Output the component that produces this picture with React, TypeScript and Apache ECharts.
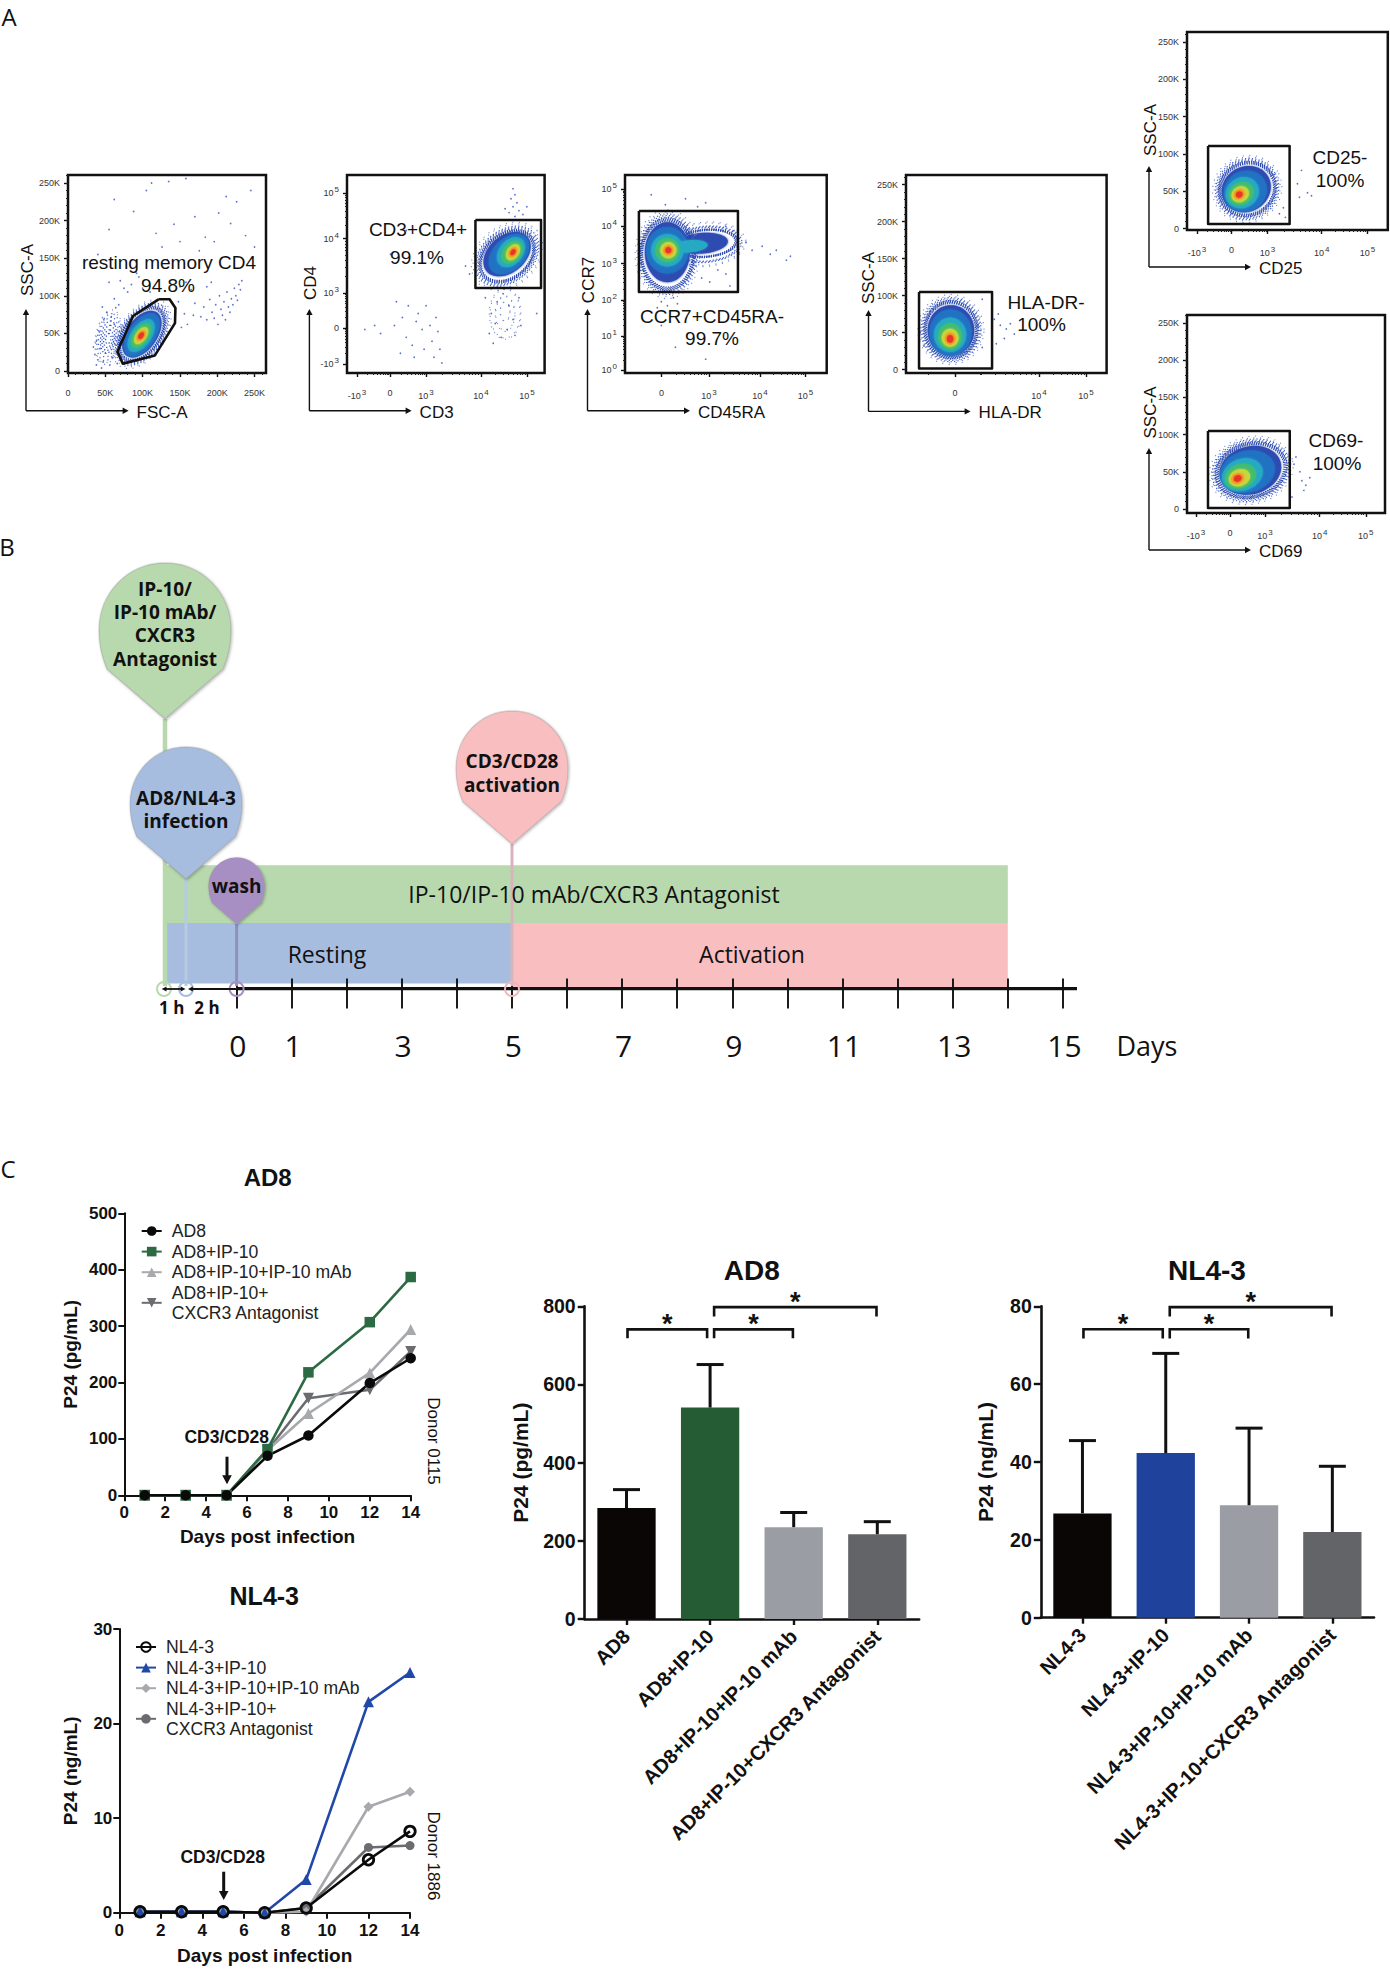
import React, { useEffect, useRef } from "react";
import * as echarts from "echarts";

// ---------- DATA ----------
const days = [1, 3, 5, 7, 9, 12, 14];
const ad8Curve = [0, 0, 0, 70, 106, 199, 243];
const ad8Ip10Curve = [0, 0, 0, 82, 218, 307, 387];
const ad8MabCurve = [0, 0, 0, 80, 145, 217, 294];
const ad8AntCurve = [0, 0, 0, 80, 172, 187, 255];
const nlCurve = [0.1, 0.1, 0.1, 0, 0.5, 5.6, 8.6];
const nlIp10Curve = [0.1, 0.1, 0.1, 0, 3.5, 22.3, 25.4];
const nlMabCurve = [0.1, 0.1, 0.1, 0, 0.1, 11.2, 12.8];
const nlAntCurve = [0.1, 0.1, 0.1, 0, 0.5, 6.9, 7.1];

const ad8Names = ["AD8", "AD8+IP-10", "AD8+IP-10+IP-10 mAb", "AD8+IP-10+\nCXCR3 Antagonist"];
const nlNames = ["NL4-3", "NL4-3+IP-10", "NL4-3+IP-10+IP-10 mAb", "NL4-3+IP-10+\nCXCR3 Antagonist"];

const ad8Cats = ["AD8", "AD8+IP-10", "AD8+IP-10+IP-10 mAb", "AD8+IP-10+CXCR3 Antagonist"];
const ad8Bars = [284, 541, 235, 217];
const ad8Errs = [331, 651, 272.5, 249];
const nlCats = ["NL4-3", "NL4-3+IP-10", "NL4-3+IP-10+IP-10 mAb", "NL4-3+IP-10+CXCR3 Antagonist"];
const nlBars = [26.8, 42.3, 28.9, 22];
const nlErrs = [45.5, 67.9, 48.7, 38.9];
const ad8Brackets = [[0, 1, 741, 718], [1, 2, 741, 718], [1, 3, 798, 774]];
const nlBrackets = [[0, 1, 74.1, 71.7], [1, 2, 74.1, 71.7], [1, 3, 79.8, 77.4]];

const timelineTicks = [0, 1, 2, 3, 4, 5, 6, 7, 8, 9, 10, 11, 12, 13, 14, 15];
const timelineLabels = [0, 1, 3, 5, 7, 9, 11, 13, 15];
const timelineBands = [
  [-1.332, 14, 51, 96],
  [-1.26, 5, 4, 51],
  [5, 14, 0, 51],
];

const kTicks = [0, 50, 100, 150, 200, 250];
const kLabels = ["0", "50K", "100K", "150K", "200K", "250K"];

// clouds: centre x, centre y, semi-axis a, semi-axis b (in x-axis units), tilt in degrees, density level
const fscClouds = [
  [54, 45, 37, 17, 80, -5], [54, 45, 32, 14.5, 80, -3], [54, 45, 27, 12.5, 80, -3], [54, 45, 22, 10, 80, -4], [54, 44, 17, 8, 80, -4], [54, 43, 12, 6, 80, -4], [54, 43, 7, 3.5, 80, -4],
  [99, 49, 52, 31, 55, -5], [99, 49, 47, 28, 55, -2], [99, 49, 42, 25, 55, -1], [99, 49, 38, 22, 55, 0], [99, 48, 33, 18, 55, 1],
  [98, 47, 25, 13.5, 55, 2], [98, 47, 19, 10, 55, 3], [98, 47, 13, 7, 55, 4], [98, 47, 8, 4.5, 55, 5], [98, 47, 5, 3, 55, 6],
];
const fscGate = [[121.3, 95.3], [136.2, 95.3], [144, 83.9], [143.4, 63.6], [116.5, 20.7], [73.5, 9.8], [66.2, 25.5], [87.1, 73.1], [121.3, 95.3]];
const fscDots = [
  [178, 72], [182, 85], [186, 68], [190, 95], [193, 78], [196, 70], [198, 88], [201, 62], [203, 100], [205, 82], [207, 74], [209, 92], [211, 68], [213, 105],
  [215, 85], [217, 78], [219, 96], [221, 88], [223, 110], [225, 100], [227, 94], [229, 115], [231, 108], [233, 120], [186, 112], [192, 118], [170, 90], [165, 108],
  [158, 118], [150, 112], [40, 155], [55, 188], [62, 228], [88, 212], [92, 130], [105, 240], [118, 183], [126, 165], [133, 148], [142, 195], [150, 172], [158, 256],
  [170, 205], [176, 160], [184, 178], [196, 172], [202, 210], [206, 150], [212, 232], [218, 196], [226, 225], [238, 180], [245, 240], [250, 165], [112, 250], [135, 252],
  [70, 120], [75, 110], [80, 105], [85, 115], [95, 125], [100, 110], [110, 105], [62, 96], [55, 118], [68, 88], [148, 92], [156, 76], [160, 62], [152, 58], [168, 74],
  [36, 22], [38, 8], [40, 15], [43, 30], [45, 4], [47, 12], [48, 68], [50, 24], [52, 78], [56, 8], [58, 72], [60, 18], [62, 62], [64, 84], [42, 52], [38, 40], [66, 10], [46, 85], [34, 32],
];
const cd3Ticks = [5.1, 21.8, 40, 67.8, 91.1];
const cd3Labels = ["-10{s|3}", "0", "10{s|3}", "10{s|4}", "10{s|5}"];
const cd4Ticks = [4.5, 22.7, 40.4, 67.9, 90.9];
const cd4Labels = ["-10{s|3}", "0", "10{s|3}", "10{s|4}", "10{s|5}"];
const cd3Clouds = [
  [80, 30, 8, 13, 0, -5], [80, 30, 5, 9, 0, -5], [80, 31, 2.5, 5, 0, -5], [81, 59, 20, 15, 40, -5], [81, 59, 18, 13, 40, -2], [81, 59, 16, 11.5, 40, -1], [81, 60, 14.5, 10, 40, 0], [82, 60, 12, 8, 45, 1],
  [83, 61, 8.5, 6, 50, 2], [83.5, 61, 6.5, 4.5, 50, 3], [84, 61, 4.5, 3, 55, 4], [84, 61, 2.8, 1.9, 55, 5], [84, 61, 1.7, 1.1, 55, 6],
];
const cd3Gate = [[65, 77.3], [98.2, 77.3], [98.2, 42.9], [65, 42.9], [65, 77.3]];
const cd3Dots = [
  [84, 93], [85, 90], [83, 88], [86, 86], [84, 84], [87, 82], [82, 81], [89, 80], [85, 79], [91, 84], [80, 83], [62, 50], [60, 54], [9, 22], [14, 24], [17, 20],
  [24, 24], [27, 10], [28, 28], [30, 18], [31, 34], [33, 14], [34, 8], [35, 26], [36, 30], [38, 22], [39, 12], [40, 34], [42, 24], [43, 16], [44, 8], [45, 28], [46, 21], [47, 12], [48, 5], [25, 36],
  [72, 20], [73, 30], [75, 25], [76, 36], [78, 18], [79, 40], [81, 22], [82, 34], [84, 27], [85, 19], [87, 38], [88, 24], [70, 38], [74, 15], [22, 60], [30, 72], [96, 30],
];
const ccr7Ticks = [1.5, 18.7, 36.9, 55.3, 74.2, 92.9];
const ccr7Labels = ["10{s|0}", "10{s|1}", "10{s|2}", "10{s|3}", "10{s|4}", "10{s|5}"];
const cd45Ticks = [18.1, 41.6, 66.9, 89.5];
const cd45Labels = ["0", "10{s|3}", "10{s|4}", "10{s|5}"];
const ccr7Clouds = [
  [40, 65, 20, 11, 5, -5], [40, 65, 18, 9, 5, -2], [40, 65.5, 16, 7, 5, -1], [38, 65.5, 14, 5.5, 5, 0], [21, 60, 16, 22, 0, -5], [21, 60, 14.5, 20, 0, -2], [21, 60, 13.5, 18, 0, -1], [21, 61, 12, 16, 0, 0],
  [21, 62, 10.5, 11.5, 0, 1], [32, 64, 9, 3, 5, 2], [21, 62, 8, 8, 0, 2], [21, 62, 6, 6, 0, 3], [21.5, 62, 4, 4, 0, 4], [21.5, 62, 2.5, 2.5, 0, 5], [21.5, 62, 1.5, 1.5, 0, 6],
];
const ccr7Gate = [[6.9, 81.8], [56, 81.8], [56, 40.9], [6.9, 40.9], [6.9, 81.8]];
const ccr7Dots = [
  [13, 90], [40, 86], [30, 88], [36, 84], [20, 85], [24, 38], [18, 36], [26, 35], [21, 34], [16, 33], [60, 66], [63, 62], [68, 64], [72, 60], [75, 62], [80, 57],
  [82, 59], [50, 50], [46, 52], [42, 46], [52, 44], [38, 48], [50, 74], [54, 72], [25, 13], [40, 7], [18, 24],
];
const hlaTicks = [24.4, 66.3, 89.7];
const hlaLabels = ["0", "10{s|4}", "10{s|5}"];
const hlaClouds = [
  [22.4, 54, 16.5, 17.5, 0, -5], [22.4, 54, 15, 16, 0, -2], [22.4, 54, 13.5, 14.5, 0, -1], [22.4, 53, 12.5, 13.5, 0, 0], [22.2, 50, 10.5, 11.5, 0, 1],
  [22, 47, 8, 8.5, 0, 2], [22, 45, 6, 6.5, 0, 3], [22, 43, 4.2, 4.5, 0, 4], [22, 42, 2.6, 3, 0, 5], [22, 41.5, 1.6, 1.9, 0, 6],
];
const hlaGate = [[6.5, 104.9], [42.9, 104.9], [42.9, 1.4], [6.5, 1.4], [6.5, 104.9]];
const hlaDots = [[44, 68], [46, 75], [47, 60], [49, 42], [50, 55], [52, 62], [54, 48], [45, 35], [38, 95], [36, 60], [38, 30], [7, 50], [9, 32]];
const cd25Ticks = [5, 22.2, 40.1, 67.1, 89.9];
const cdLabels = ["-10{s|3}", "0", "10{s|3}", "10{s|4}", "10{s|5}"];
const cd25Clouds = [
  [30, 53, 17.5, 16.5, 30, -5], [30, 53, 16, 15, 30, -2], [30, 53, 14.7, 13.5, 30, -1], [29.5, 53, 13.5, 12, 30, 0], [29, 50, 11, 10, 30, 1],
  [27.5, 48, 8.5, 7.5, 30, 2], [27, 47, 6.5, 5.5, 30, 3], [26.5, 46, 4.5, 3.8, 30, 4], [26, 46, 2.8, 2.4, 30, 5], [26, 45.6, 1.7, 1.5, 30, 6],
];
const cd25Gate = [[10.5, 110.7], [51.1, 110.7], [51.1, 6.2], [10.5, 6.2], [10.5, 110.7]];
const cd25Dots = [[56, 42], [55, 60], [57, 78], [60, 48], [62, 44], [48, 28], [46, 20], [49, 15]];
const cd69Ticks = [4.5, 21.7, 39.4, 67, 90.3];
const cd69Clouds = [
  [32.4, 52, 21.5, 17, 15, -5], [32.4, 52, 20, 15.5, 15, -2], [32.4, 52, 18.5, 14, 15, -1], [32, 52, 17, 13, 15, 0], [30.5, 50, 14, 10.5, 15, 1],
  [28, 46, 10.5, 8, 20, 2], [27, 44, 8, 6, 20, 3], [26.5, 42, 5.5, 4.2, 20, 4], [25.6, 41, 3.4, 2.6, 20, 5], [25.6, 41, 2, 1.6, 20, 6],
];
const cd69Gate = [[10.6, 104.8], [51.9, 104.8], [51.9, 1.3], [10.6, 1.3], [10.6, 104.8]];
const cd69Dots = [[54, 60], [55, 70], [57, 50], [58, 38], [59, 25], [60, 32], [62, 42], [53, 16]];

// ---------- STYLE ----------
const OPEN = "'Open Sans', sans-serif";
const ARIAL = "'Liberation Sans', Arial, sans-serif";
const densityColors = ["#2d4cb2", "#2172c4", "#25a9c2", "#43bd70", "#c6d63c", "#f4a325", "#e8352a"];
const stipple: any = {
  "-1": { stroke: "#2b49ae", lineWidth: 1.3, lineDash: [1.2, 1.1], scales: [1, 0.97, 0.94, 0.91] },
  "-2": { stroke: "#3f5fc2", lineWidth: 1.2, lineDash: [1.2, 2.2], scales: [1, 0.96, 0.92] },
  "-3": { stroke: "#4a68c6", lineWidth: 1.2, lineDash: [1.2, 3.4], scales: [1] },
  "-4": { stroke: "#3757bd", lineWidth: 1.3, lineDash: [1.3, 2.2], scales: [1] },
  "-5": { stroke: "#6f88d4", lineWidth: 1.1, lineDash: [1.1, 5.5], scales: [1, 0.95] },
};

echarts.graphic.registerShape(
  "teardrop",
  echarts.graphic.extendPath("M50 0C78 0 100 19 100 43C100 52 98 60 94 68L50 100L6 68C2 60 0 52 0 43C0 19 22 0 50 0Z", {})
);

// ---------- BUILDERS ----------
const grid: any[] = [];
const xAxis: any[] = [];
const yAxis: any[] = [];
const series: any[] = [];
const graphic: any[] = [];
const title: any[] = [];
const legend: any[] = [];

function T(text: string, x: number, y: number, font: string, opt: any = {}) {
  graphic.push({
    type: "text", x, y, rotation: opt.rotation || 0, z: opt.z || 20, silent: true,
    style: {
      text, font, fill: opt.fill || "#111",
      textAlign: opt.align || "center", textVerticalAlign: "middle",
      align: opt.align || "center", verticalAlign: "middle",
    },
  });
}
function seg(x1: number, y1: number, x2: number, y2: number, w: number, c = "#111", z = 15) {
  graphic.push({ type: "line", z, silent: true, shape: { x1, y1, x2, y2 }, style: { stroke: c, lineWidth: w } });
}
function head(x: number, y: number, dir: string, s = 5, c = "#111", z = 15) {
  const d: any = {
    r: [[x, y], [x - s * 1.5, y - s * 0.8], [x - s * 1.5, y + s * 0.8]],
    l: [[x, y], [x + s * 1.5, y - s * 0.8], [x + s * 1.5, y + s * 0.8]],
    u: [[x, y], [x - s * 0.8, y + s * 1.5], [x + s * 0.8, y + s * 1.5]],
    d: [[x, y], [x - s * 0.8, y - s * 1.5], [x + s * 0.8, y - s * 1.5]],
  };
  graphic.push({ type: "polygon", z, silent: true, shape: { points: d[dir] }, style: { fill: c } });
}

function cloudItem(params: any, api: any) {
  const cx = api.value(0), cy = api.value(1), a = api.value(2), b = api.value(3), r = (api.value(4) * Math.PI) / 180, lv = api.value(5);
  const c = api.coord([cx, cy]);
  const sx = api.size([1, 1])[0];
  const ring = (k: number) => {
    const pts: number[][] = [];
    for (let i = 0; i < 60; i++) {
      const t = (i / 60) * Math.PI * 2;
      const u = k * a * sx * Math.cos(t), v = k * b * sx * Math.sin(t);
      pts.push([c[0] + u * Math.cos(r) - v * Math.sin(r), c[1] - (u * Math.sin(r) + v * Math.cos(r))]);
    }
    return pts;
  };
  if (lv >= 0) {
    const col = densityColors[lv];
    return {
      type: "polygon", shape: { points: ring(lv === 0 ? 0.93 : 1) }, silent: true,
      style: { fill: col, shadowColor: col, shadowBlur: lv === 0 ? 2 : 2.5 },
    };
  }
  const st = stipple[String(lv)];
  return {
    type: "group", silent: true,
    children: st.scales.map((k: number, i: number) => ({
      type: "polygon", shape: { points: ring(k) }, silent: true,
      style: { fill: "none", stroke: st.stroke, lineWidth: st.lineWidth, lineDash: st.lineDash, lineDashOffset: i * 0.9 },
    })),
  };
}

function minorLog(ticks: number[]) {
  const out: number[] = [];
  for (let i = 0; i + 1 < ticks.length; i++) {
    for (let k = 2; k < 10; k++) out.push(ticks[i] + (ticks[i + 1] - ticks[i]) * Math.log10(k));
  }
  return out;
}
const minorK: number[] = [];
for (let v = 0; v <= 260; v += 10) minorK.push(v);

const richS = { s: { fontSize: 8, padding: [0, 0, 7, 1], fontFamily: ARIAL, color: "#333" } };
function flowAxis(dim: string, gridIndex: number, min: number, max: number, ticks: number[], labels: string[], minor: number[]) {
  const list = dim === "x" ? xAxis : yAxis;
  const position = dim === "x" ? "bottom" : "left";
  list.push({
    type: "value", gridIndex, min, max, position, splitLine: { show: false }, axisLine: { show: false, onZero: false },
    axisTick: { show: true, customValues: ticks, length: 4, lineStyle: { color: "#111", width: 1.4 } },
    axisLabel: {
      show: true, customValues: ticks, margin: dim === "x" ? 15 : 8, fontFamily: ARIAL, fontSize: 9, color: "#333", rich: richS,
      formatter: (v: number) => labels[ticks.indexOf(v)] ?? "",
    },
  });
  list.push({
    type: "value", gridIndex, min, max, position, splitLine: { show: false }, axisLine: { show: false, onZero: false }, axisLabel: { show: false },
    axisTick: { show: true, customValues: minor, length: 2, lineStyle: { color: "#222", width: 1 } },
  });
}

function flowPlot(p: any) {
  const gi = grid.length;
  grid.push({ left: p.left, top: p.top, width: p.w, height: p.h, show: true, borderColor: "#111", borderWidth: 2.5, backgroundColor: "#fff" });
  const xi = xAxis.length, yi = yAxis.length;
  flowAxis("x", gi, p.xMin, p.xMax, p.xTicks, p.xLabels, p.xMinor);
  flowAxis("y", gi, p.yMin, p.yMax, p.yTicks, p.yLabels, p.yMinor);
  series.push({
    type: "custom", xAxisIndex: xi, yAxisIndex: yi, data: p.clouds, renderItem: cloudItem, clip: false, silent: true, encode: { x: 0, y: 1 }, z: 2,
  });
  series.push({
    type: "scatter", xAxisIndex: xi, yAxisIndex: yi, data: p.dots, symbolSize: 1.7, silent: true, z: 3,
    itemStyle: { color: "#3d5bc0", opacity: 0.85 },
  });
  series.push({
    type: "line", xAxisIndex: xi, yAxisIndex: yi, data: p.gate, showSymbol: false, symbol: "none", silent: true, z: 4, clip: false,
    lineStyle: { color: "#111", width: p.gateW || 2.5, join: "round" },
  });
  // axis arrows
  const a = p.arrow;
  seg(a.x, a.bottom, a.x, a.top + 5, 1.4);
  seg(a.x, a.bottom, a.right - 5, a.bottom, 1.4);
  head(a.x, a.top, "u", 4);
  head(a.right, a.bottom, "r", 4);
  T(p.xName, a.right + 8, a.bottom + 1.5, `17px ${ARIAL}`, { align: "left" });
  T(p.yName, p.yNameX, p.yNameY, `17px ${ARIAL}`, { rotation: Math.PI / 2 });
  for (const n of p.notes) T(n[0], n[1], n[2], `19px ${ARIAL}`);
}

function errorItem(params: any, api: any) {
  const top = api.coord([api.value(0), api.value(1)]);
  const base = api.coord([api.value(0), api.value(2)]);
  const cap = 13.5;
  return {
    type: "group",
    children: [
      { type: "line", shape: { x1: top[0], y1: top[1], x2: base[0], y2: base[1] }, style: { stroke: "#111", lineWidth: 3 } },
      { type: "line", shape: { x1: top[0] - cap, y1: top[1], x2: top[0] + cap, y2: top[1] }, style: { stroke: "#111", lineWidth: 3 } },
    ],
  };
}
function bracketItem(params: any, api: any) {
  const from = api.value(0), to = api.value(1), t = api.value(2), b = api.value(3);
  const x1 = api.coord([from, t])[0] + (from === 1 ? 4 : 1);
  const x2 = api.coord([to, t])[0] - (to === 1 ? 3 : 0.8);
  const yT = api.coord([from, t])[1], yB = api.coord([from, b])[1];
  return {
    type: "group",
    children: [
      { type: "polyline", shape: { points: [[x1, yB], [x1, yT], [x2, yT], [x2, yB]] }, style: { stroke: "#111", lineWidth: 2.6, fill: "none" } },
      {
        type: "text", x: (x1 + x2) / 2, y: yT - 5,
        style: { text: "*", font: `bold 27px ${ARIAL}`, fill: "#111", textAlign: "center", textVerticalAlign: "middle", align: "center", verticalAlign: "middle" },
      },
    ],
  };
}

function linePlot(p: any) {
  const gi = grid.length;
  grid.push({ left: p.left, top: p.top, width: p.w, height: p.h });
  const axisBits = (name: string, gap: number) => ({
    name, nameLocation: "middle", nameGap: gap,
    nameTextStyle: { fontFamily: ARIAL, fontWeight: "bold", fontSize: 19, color: "#111" },
    axisLine: { show: true, onZero: false, lineStyle: { color: "#111", width: 2 } },
    axisTick: { show: true, length: 6, lineStyle: { color: "#111", width: 2 } },
    axisLabel: { fontFamily: ARIAL, fontWeight: "bold", fontSize: 17, color: "#111" },
    splitLine: { show: false },
  });
  const xi = xAxis.length, yi = yAxis.length;
  const xb = axisBits("Days post infection", p.xGap);
  xAxis.push({ type: "value", gridIndex: gi, min: 0, max: 14, interval: 2, ...xb, axisLabel: { ...xb.axisLabel, margin: 9 } });
  const yb = axisBits(p.yName, p.yGap);
  yAxis.push({ type: "value", gridIndex: gi, min: 0, max: p.yMax, interval: p.yInt, ...yb, nameRotate: 90, axisLabel: { ...yb.axisLabel, margin: 7 } });
  for (const s of p.lines) {
    series.push({
      type: "line", name: s.name, xAxisIndex: xi, yAxisIndex: yi, clip: false, symbol: s.symbol, symbolSize: s.size, z: 3,
      data: days.map((d, i) => [d, s.values[i]]),
      lineStyle: { color: s.color, width: 2.6 },
      itemStyle: s.hollow ? { color: "rgba(255,255,255,0)", borderColor: s.color, borderWidth: 2.8 } : { color: s.color },
    });
  }
  legend.push({
    show: true, orient: "vertical", left: p.legX, top: p.legY, padding: 0, itemGap: 0.6, itemWidth: 20, itemHeight: 12,
    data: p.names, selectedMode: false, textStyle: { fontFamily: ARIAL, fontSize: 17.6, lineHeight: 20, color: "#222", padding: [0, 0, 0, 5] },
  });
}

function barPlot(p: any) {
  const gi = grid.length;
  grid.push({ left: p.left, top: p.top, width: p.w, height: p.h });
  const xi = xAxis.length, yi = yAxis.length;
  xAxis.push({
    type: "category", gridIndex: gi, data: p.cats,
    axisLine: { show: true, lineStyle: { color: "#111", width: 2.6 } },
    axisTick: { show: true, alignWithLabel: true, length: 6, lineStyle: { color: "#111", width: 2.4 } },
    axisLabel: { interval: 0, rotate: 45, margin: 14, fontFamily: ARIAL, fontWeight: "bold", fontSize: 20, color: "#111" },
  });
  yAxis.push({
    type: "value", gridIndex: gi, min: 0, max: p.yMax, interval: p.yInt,
    name: p.yName, nameLocation: "middle", nameGap: p.yGap, nameRotate: 90,
    nameTextStyle: { fontFamily: ARIAL, fontWeight: "bold", fontSize: 21, color: "#111" },
    axisLine: { show: true, onZero: false, lineStyle: { color: "#111", width: 2.6 } },
    axisTick: { show: true, length: 7, lineStyle: { color: "#111", width: 2.4 } },
    axisLabel: { margin: 9, fontFamily: ARIAL, fontWeight: "bold", fontSize: 19.5, color: "#111" },
    splitLine: { show: false },
  });
  series.push({
    type: "bar", xAxisIndex: xi, yAxisIndex: yi, barWidth: 58.3, silent: true, z: 2,
    data: p.values.map((v: number, i: number) => ({ value: v, itemStyle: { color: p.colors[i] } })),
  });
  series.push({
    type: "custom", xAxisIndex: xi, yAxisIndex: yi, renderItem: errorItem, clip: false, silent: true, z: 3, encode: { x: 0, y: 1 },
    data: p.values.map((v: number, i: number) => [i, p.errs[i], v]),
  });
  series.push({
    type: "custom", xAxisIndex: xi, yAxisIndex: yi, renderItem: bracketItem, clip: false, silent: true, z: 3, encode: { x: 0, y: 2 },
    data: p.brackets,
  });
}

function buildTimeline() {
  const gi = grid.length;
  grid.push({ left: 163, top: 860, width: 914, height: 128.6 });
  const xi = xAxis.length, yi = yAxis.length;
  const range = { min: -1.332, max: 15.256 };
  xAxis.push({
    type: "value", gridIndex: gi, ...range, position: "bottom", z: 6, splitLine: { show: false }, axisLine: { show: false, onZero: false },
    axisTick: { show: true, customValues: timelineTicks, length: 20, lineStyle: { color: "#111", width: 1.9 } },
    axisLabel: { show: true, customValues: timelineLabels, margin: 42, padding: [0, 0, 0, 3], fontFamily: OPEN, fontSize: 30, color: "#111" },
  });
  xAxis.push({
    type: "value", gridIndex: gi, ...range, position: "bottom", z: 6, splitLine: { show: false }, axisLine: { show: false, onZero: false }, axisLabel: { show: false },
    axisTick: { show: true, inside: true, customValues: timelineTicks, length: 10, lineStyle: { color: "#111", width: 1.9 } },
  });
  yAxis.push({ type: "value", gridIndex: gi, min: 0, max: 100, show: false });
  const bandColors = ["#b8d8ad", "#a6bde0", "#f8bec0"];
  series.push({
    type: "custom", xAxisIndex: xi, yAxisIndex: yi, clip: false, silent: true, z: 1, encode: { x: 0, y: 2 }, data: timelineBands,
    renderItem: (params: any, api: any) => {
      const a = api.coord([api.value(0), api.value(3)]);
      const b = api.coord([api.value(1), api.value(2)]);
      return { type: "rect", shape: { x: a[0], y: a[1], width: b[0] - a[0], height: b[1] - a[1] }, style: { fill: bandColors[params.dataIndex] } };
    },
  });
  series.push({
    type: "line", xAxisIndex: xi, yAxisIndex: yi, symbol: "none", clip: false, silent: true, z: 5, data: [[0, 0], [15.256, 0]],
    lineStyle: { color: "#111", width: 3.4 },
  });

  const pins = [
    { x: 165, top: 563, hw: 66, tip: 719, fill: "#b8d8ad", stem: "#b8d8ad", sw: 4.5, ring: "#b8d8ad", rx: 164 },
    { x: 186, top: 747, hw: 56, tip: 879, fill: "#a6bde0", stem: "#b7c9e3", sw: 3, ring: "#a6bde0", rx: 186 },
    { x: 512, top: 711, hw: 56, tip: 844, fill: "#f8bec0", stem: "#d9b4bc", sw: 3, ring: "#f1b6bc", rx: 512 },
    { x: 236.6, top: 857.5, hw: 28, tip: 924, fill: "#a78fc4", stem: "#928fbd", sw: 3, ring: "#a78fc4", rx: 236.6 },
  ];
  for (const p of pins) {
    seg(p.x, p.tip, p.x, 986, p.sw, p.stem, 8);
    graphic.push({
      type: "teardrop", x: p.x - p.hw, y: p.top, scaleX: (p.hw * 2) / 100, scaleY: (p.tip - p.top) / 100, z: 9 + pins.indexOf(p) * 0.1, silent: true,
      style: { fill: p.fill, stroke: "rgba(120,120,120,0.25)", lineWidth: 1, shadowBlur: 3, shadowColor: "rgba(0,0,0,0.3)", shadowOffsetX: 1, shadowOffsetY: 1 },
    });
    graphic.push({
      type: "ellipse", z: 12, silent: true, shape: { cx: p.rx, cy: 989, rx: 7, ry: 7 },
      style: { fill: "rgba(255,255,255,0)", stroke: p.ring, lineWidth: 2 },
    });
  }
  seg(165, 989, 183, 989, 1.8); head(161.7, 989, "l", 3.2); head(185.5, 989, "r", 3.2);
  seg(191, 989, 236, 989, 1.8); head(188, 989, "l", 3.2);
  T("1 h", 171.7, 1007, `bold 17px ${OPEN}`);
  T("2 h", 207, 1007, `bold 17px ${OPEN}`);
  T("Days", 1147, 1045, `27px ${OPEN}`);
  T("Resting", 327, 954, `23px ${OPEN}`);
  T("Activation", 752, 954, `23px ${OPEN}`);
  T("IP-10/IP-10 mAb/CXCR3 Antagonist", 594, 894, `23px ${OPEN}`);
  const bf = `bold 19px ${OPEN}`;
  T("IP-10/", 165, 589, bf); T("IP-10 mAb/", 165, 612, bf); T("CXCR3", 165, 635, bf); T("Antagonist", 165, 658.6, bf);
  T("AD8/NL4-3", 186, 798, bf); T("infection", 186, 821, bf);
  T("CD3/CD28", 512, 761, bf); T("activation", 512, 785, bf);
  T("wash", 236.6, 886, bf);
}

function buildAll() {
  T("A", 9, 16, `24px ${OPEN}`);
  T("B", 7, 546, `24px ${OPEN}`);
  T("C", 8, 1168, `24px ${OPEN}`);

  flowPlot({
    left: 68, top: 175, w: 198, h: 198, xMin: 0, xMax: 265.4, yMin: -2.66, yMax: 260.6,
    xTicks: kTicks, xLabels: kLabels, yTicks: kTicks, yLabels: kLabels, xMinor: minorK, yMinor: minorK,
    clouds: fscClouds, gate: fscGate, dots: fscDots, gateW: 2.6,
    arrow: { x: 26, bottom: 410.7, top: 309, right: 128.6 }, xName: "FSC-A", yName: "SSC-A", yNameX: 27, yNameY: 270,
    notes: [["resting memory CD4", 169, 262], ["94.8%", 168, 285]],
  });
  flowPlot({
    left: 347, top: 175, w: 197.6, h: 198, xMin: 0, xMax: 100, yMin: 0, yMax: 100,
    xTicks: cd3Ticks, xLabels: cd3Labels, yTicks: cd4Ticks, yLabels: cd4Labels, xMinor: minorLog(cd3Ticks), yMinor: minorLog(cd4Ticks),
    clouds: cd3Clouds, gate: cd3Gate, dots: cd3Dots,
    arrow: { x: 309.4, bottom: 410.7, top: 309, right: 411.6 }, xName: "CD3", yName: "CD4", yNameX: 310, yNameY: 283,
    notes: [["CD3+CD4+", 418, 229], ["99.1%", 417, 257]],
  });
  flowPlot({
    left: 625, top: 175, w: 201.7, h: 198, xMin: 0, xMax: 100, yMin: 0, yMax: 100,
    xTicks: cd45Ticks, xLabels: cd45Labels, yTicks: ccr7Ticks, yLabels: ccr7Labels, xMinor: minorLog(cd45Ticks), yMinor: minorLog(ccr7Ticks),
    clouds: ccr7Clouds, gate: ccr7Gate, dots: ccr7Dots,
    arrow: { x: 587.5, bottom: 410.7, top: 309, right: 690 }, xName: "CD45RA", yName: "CCR7", yNameX: 588, yNameY: 280,
    notes: [["CCR7+CD45RA-", 712, 316], ["99.7%", 712, 338.6]],
  });
  flowPlot({
    left: 906, top: 175, w: 200.6, h: 198, xMin: 0, xMax: 100, yMin: -4.6, yMax: 263,
    xTicks: hlaTicks, xLabels: hlaLabels, yTicks: kTicks, yLabels: kLabels, xMinor: [11, 37.7, ...minorLog(hlaTicks)], yMinor: minorK,
    clouds: hlaClouds, gate: hlaGate, dots: hlaDots,
    arrow: { x: 868.5, bottom: 411.4, top: 310, right: 970.6 }, xName: "HLA-DR", yName: "SSC-A", yNameX: 868, yNameY: 278,
    notes: [["HLA-DR-", 1046, 302.5], ["100%", 1041.5, 324]],
  });
  flowPlot({
    left: 1187, top: 32, w: 200.8, h: 198, xMin: 0, xMax: 100, yMin: -1.9, yMax: 263.4,
    xTicks: cd25Ticks, xLabels: cdLabels, yTicks: kTicks, yLabels: kLabels, xMinor: minorLog(cd25Ticks), yMinor: minorK,
    clouds: cd25Clouds, gate: cd25Gate, dots: cd25Dots,
    arrow: { x: 1149, bottom: 267, top: 166, right: 1251 }, xName: "CD25", yName: "SSC-A", yNameX: 1150.6, yNameY: 130,
    notes: [["CD25-", 1340, 157], ["100%", 1340, 180]],
  });
  flowPlot({
    left: 1187, top: 315, w: 198, h: 198, xMin: 0, xMax: 100, yMin: -5.4, yMax: 260.7,
    xTicks: cd69Ticks, xLabels: cdLabels, yTicks: kTicks, yLabels: kLabels, xMinor: minorLog(cd69Ticks), yMinor: minorK,
    clouds: cd69Clouds, gate: cd69Gate, dots: cd69Dots,
    arrow: { x: 1149, bottom: 550, top: 448, right: 1251 }, xName: "CD69", yName: "SSC-A", yNameX: 1150, yNameY: 412.5,
    notes: [["CD69-", 1336, 440], ["100%", 1337, 463]],
  });

  buildTimeline();

  linePlot({
    left: 124.3, top: 1213.3, w: 286.4, h: 282, yMax: 500, yInt: 100, yName: "P24 (pg/mL)", yGap: 44.5, xGap: 32,
    legX: 140.7, legY: 1221, names: ad8Names,
    lines: [
      { name: ad8Names[3], values: ad8AntCurve, color: "#6b6c70", symbol: "path://M0 0H10L5 10Z", size: 11 },
      { name: ad8Names[2], values: ad8MabCurve, color: "#a7a9ad", symbol: "triangle", size: 11 },
      { name: ad8Names[1], values: ad8Ip10Curve, color: "#2b6a42", symbol: "rect", size: 10.5 },
      { name: ad8Names[0], values: ad8Curve, color: "#0a0a0a", symbol: "circle", size: 10.5 },
    ],
  });
  linePlot({
    left: 119.3, top: 1629, w: 290.7, h: 283.7, yMax: 30, yInt: 10, yName: "P24 (ng/mL)", yGap: 39.5, xGap: 33.5,
    legX: 135, legY: 1637, names: nlNames,
    lines: [
      { name: nlNames[3], values: nlAntCurve, color: "#6b6c70", symbol: "circle", size: 9 },
      { name: nlNames[2], values: nlMabCurve, color: "#a7a9ad", symbol: "diamond", size: 10 },
      { name: nlNames[1], values: nlIp10Curve, color: "#2048a8", symbol: "triangle", size: 11 },
      { name: nlNames[0], values: nlCurve, color: "#0a0a0a", symbol: "circle", size: 10.5, hollow: true },
    ],
  });
  T("CD3/CD28", 226.7, 1436.7, `bold 17.5px ${ARIAL}`);
  seg(227, 1456.7, 227, 1476, 3); head(227, 1484.3, "d", 6);
  T("CD3/CD28", 222.7, 1857.3, `bold 17.5px ${ARIAL}`);
  seg(223.7, 1871.7, 223.7, 1892, 3); head(223.7, 1900, "d", 6);
  T("Donor 0115", 433.3, 1441, `17px ${ARIAL}`, { rotation: -Math.PI / 2 });
  T("Donor 1886", 433.3, 1856, `17px ${ARIAL}`, { rotation: -Math.PI / 2 });

  barPlot({
    left: 584.7, top: 1306.3, w: 334.4, h: 312.7, cats: ad8Cats, values: ad8Bars, errs: ad8Errs, brackets: ad8Brackets,
    colors: ["#0a0606", "#255c34", "#9a9da4", "#636467"], yMax: 800, yInt: 200, yName: "P24 (pg/mL)", yGap: 53.5,
  });
  barPlot({
    left: 1040.8, top: 1306.3, w: 333.2, h: 311.4, cats: nlCats, values: nlBars, errs: nlErrs, brackets: nlBrackets,
    colors: ["#0a0606", "#1f439c", "#9a9da4", "#636467"], yMax: 80, yInt: 20, yName: "P24 (ng/mL)", yGap: 45,
  });

  const tt = (text: string, x: number, y: number, size: number) =>
    title.push({ text, left: x, top: y - size / 2, textAlign: "center", padding: 0, textStyle: { fontFamily: ARIAL, fontWeight: "bold", fontSize: size, color: "#111" } });
  tt("AD8", 267.7, 1177.7, 24);
  tt("NL4-3", 264.3, 1596, 25);
  tt("AD8", 751.7, 1270, 28);
  tt("NL4-3", 1207, 1270, 28);
}

export default function App() {
  const ref = useRef<HTMLDivElement>(null);
  useEffect(() => {
    if (!grid.length) buildAll();
    const chart = echarts.init(ref.current as HTMLDivElement, undefined, { renderer: "svg" });
    chart.setOption({ animation: false, backgroundColor: "#fff", grid, xAxis, yAxis, series, graphic, title, legend });
    return () => chart.dispose();
  }, []);
  return <div ref={ref} style={{ position: "absolute", left: 0, top: 0, width: 1390, height: 1969 }} />;
}
